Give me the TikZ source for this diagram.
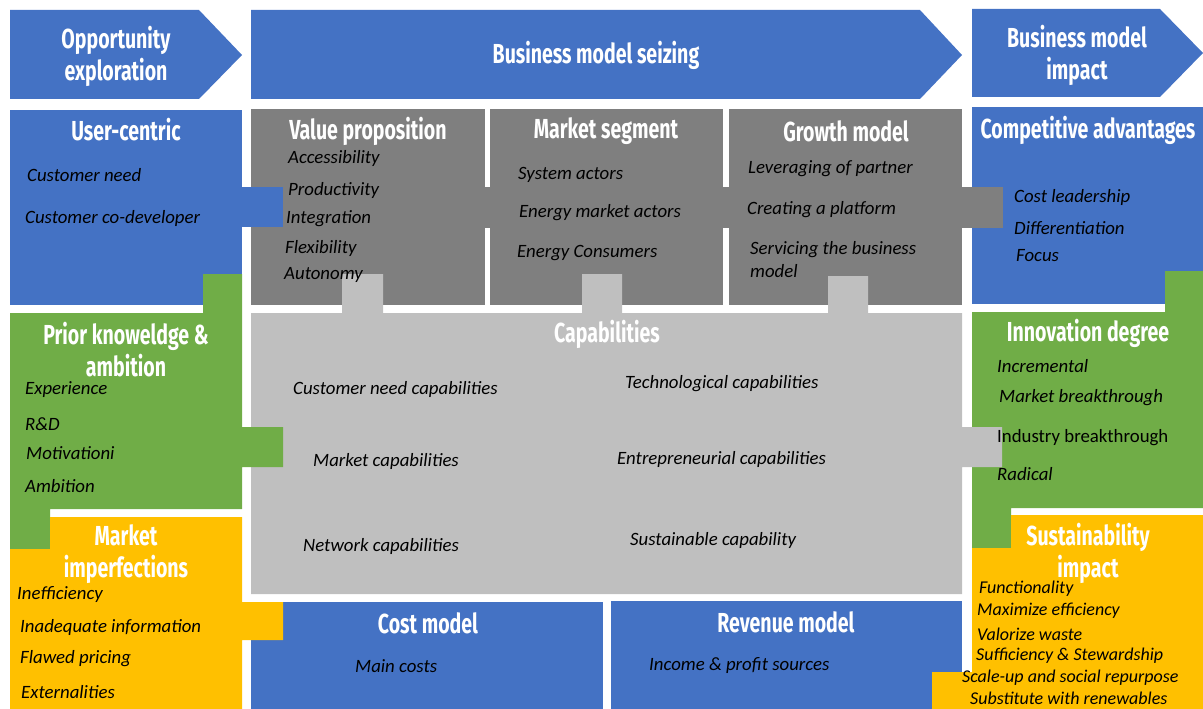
\documentclass[tikz,border=0pt]{standalone}
\usepackage{fontspec}
\setmainfont{Carlito}
\newfontfamily\headfont[FakeStretch=0.71]{Fira Sans}
\usetikzlibrary{positioning}
\definecolor{bmblue}{HTML}{4472C4}
\definecolor{bmgreen}{HTML}{70AD47}
\definecolor{bmyellow}{HTML}{FFC000}
\definecolor{bmdark}{HTML}{7F7F7F}
\definecolor{bmlight}{HTML}{BFBFBF}

\begin{document}
\begin{tikzpicture}[
    x=1pt, y=-1pt,
    head/.style={font=\headfont\bfseries\fontsize{27.5}{32}\selectfont,
                 text=white, align=center, inner sep=0pt},
    item/.style={anchor=west, font=\itshape\fontsize{18.8}{23}\selectfont,
                 inner sep=0pt, align=left},
    plain/.style={item, font=\fontsize{18.8}{23}\selectfont},
    smallitem/.style={item, font=\itshape\fontsize{18}{22}\selectfont}
  ]
  \useasboundingbox (0,0) rectangle (1203,709);

  %% Phase arrows
  \fill[bmblue] (10,10) -- (199,10) -- (242,55) -- (199,99) -- (10,99) -- cycle;
  \fill[bmblue] (251,10) -- (920,10) -- (962,55) -- (920,99) -- (251,99) -- cycle;
  \fill[bmblue] (972,9) -- (1160,9) -- (1203,53) -- (1160,97) -- (972,97) -- cycle;
  \node[head] (pExplore) at (116,56) {Opportunity\\exploration};
  \node[head] (pSeize) at (596,55) {Business model seizing};
  \node[head] (pImpact) at (1077,55) {Business model\\impact};

  %% Business model seizing blocks
  \fill[bmblue] (10,110) rectangle (242,305);
  \fill[bmdark] (251,109) rectangle (485,305);
  \fill[bmdark] (490,109) rectangle (723,305);
  \fill[bmdark] (729,109) rectangle (962,305);
  \fill[bmblue] (972,107) rectangle (1203,304);
  \fill[bmdark] (251,187) rectangle (1003,228);
  \fill[bmblue] (242,187) rectangle (283,227);
  \fill[bmblue] (251,602) rectangle (603,709);
  \fill[bmblue] (611,601) rectangle (962,709);

  %% Innovation degree and capabilities
  \fill[bmgreen] (972,312) -- (1165,312) -- (1165,271) -- (1203,271)
    -- (1203,508) -- (1011,508) -- (1011,548) -- (972,548) -- cycle;
  \fill[bmlight] (251,313) -- (342,313) -- (342,274) -- (383,274) -- (383,313)
    -- (582,313) -- (582,274) -- (622,274) -- (622,313)
    -- (828,313) -- (828,276) -- (868,276) -- (868,313)
    -- (962,313) -- (962,427) -- (1002,427) -- (1002,467) -- (962,467)
    -- (962,594) -- (251,594) -- cycle;

  %% Prior knowledge and market imperfections
  \fill[bmgreen] (10,313) -- (203,313) -- (203,274) -- (242,274) -- (242,427)
    -- (283,427) -- (283,467) -- (242,467) -- (242,509) -- (50,509)
    -- (50,549) -- (10,549) -- cycle;
  \fill[bmyellow] (50,517) -- (242,517) -- (242,602) -- (283,602) -- (283,640)
    -- (242,640) -- (242,709) -- (10,709) -- (10,549) -- (50,549) -- cycle;
  \fill[bmyellow] (1011,515) -- (1203,515) -- (1203,709) -- (932,709)
    -- (932,672) -- (972,672) -- (972,548) -- (1011,548) -- cycle;

  %% Block titles
  \node[head] (hUser) at (126,130) {User-centric};
  \node[head] (hValue) at (368,131) {Value proposition};
  \node[head] (hSegment) at (606,131) {Market segment};
  \node[head] (hGrowth) at (846,131) {Growth model};
  \node[head] (hCompete) at (1088,130) {Competitive advantages};
  \node[head] (hPrior) at (126,350) {Prior knoweldge \&\\ambition};
  \node[head] (hCapab) at (607,334) {Capabilities};
  \node[head] (hInnov) at (1088,333) {Innovation degree};
  \node[head] (hImperf) at (126,554) {Market\\imperfections};
  \node[head] (hSustain) at (1088,553) {Sustainability\\impact};
  \node[head] (hCost) at (428,623) {Cost model};
  \node[head] (hRevenue) at (786,622) {Revenue model};

  %% Items
  \foreach \txt/\xx/\yy [count=\i] in {Customer need/27/175,
      Customer co-developer/25/218}
    \node[item] (uc\i) at (\xx,\yy) {\txt};
  \foreach \txt/\xx/\yy [count=\i] in {Accessibility/288/158,
      Productivity/288/190, Integration/286/219, Flexibility/285/248,
      Autonomy/284/275}
    \node[item] (vp\i) at (\xx,\yy) {\txt};
  \foreach \txt/\xx/\yy [count=\i] in {System actors/518/175,
      Energy market actors/519/213, Energy Consumers/517/253}
    \node[item] (ms\i) at (\xx,\yy) {\txt};
  \foreach \txt/\xx/\yy [count=\i] in {Leveraging of partner/748/169,
      Creating a platform/747/210}
    \node[item] (gm\i) at (\xx,\yy) {\txt};
  \node[item] (gm3) at (750,260) {Servicing the business\\model};
  \foreach \txt/\xx/\yy [count=\i] in {Cost leadership/1014/197,
      Differentiation/1014/228, Focus/1016/256}
    \node[item] (ca\i) at (\xx,\yy) {\txt};
  \foreach \txt/\xx/\yy [count=\i] in {Experience/25/390, R\&D/25/424,
      Motivationi/26/453, Ambition/25/486}
    \node[item] (pk\i) at (\xx,\yy) {\txt};
  \foreach \txt/\xx/\yy [count=\i] in {Customer need capabilities/293/389,
      Technological capabilities/625/384, Market capabilities/313/461,
      Entrepreneurial capabilities/617/459, Network capabilities/303/546,
      Sustainable capability/630/540}
    \node[item] (cp\i) at (\xx,\yy) {\txt};
  \node[item] (in1) at (997,366) {Incremental};
  \node[item] (in2) at (999,398) {Market breakthrough};
  \node[plain] (in3) at (997,438) {Industry breakthrough};
  \node[item] (in4) at (997,474) {Radical};
  \foreach \txt/\xx/\yy [count=\i] in {Inefficiency/17/594,
      Inadequate information/20/627, Flawed pricing/20/659,
      Externalities/21/692}
    \node[item] (mi\i) at (\xx,\yy) {\txt};
  \node[item] (cm1) at (355,666) {Main costs};
  \node[item] (rm1) at (649,666) {Income \& profit sources};
  \foreach \txt/\xx/\yy [count=\i] in {Functionality/979/589,
      Maximize efficiency/977/611, Valorize waste/977/634,
      Sufficiency \& Stewardship/976/656,
      Scale-up and social repurpose/962/678,
      Substitute with renewables/970/698}
    \node[smallitem] (si\i) at (\xx,\yy) {\txt};

\end{tikzpicture}
\end{document}
